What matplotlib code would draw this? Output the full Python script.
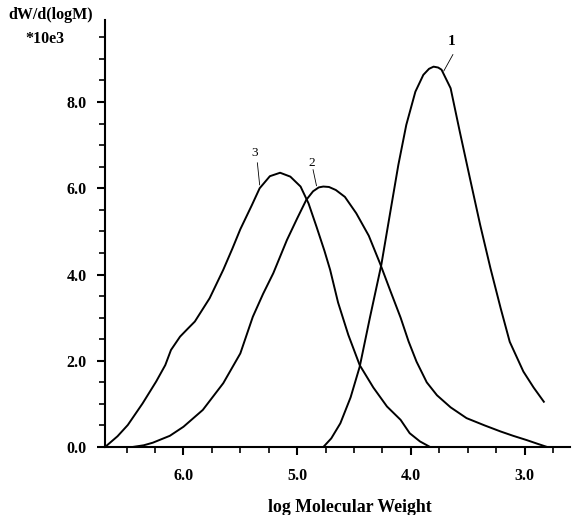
import numpy as np
import matplotlib.pyplot as plt
from matplotlib.ticker import MultipleLocator

# values (log M, dW/d(logM) * 10e3)
x1 = [4.77, 4.70, 4.62, 4.53, 4.45, 4.36, 4.26, 4.18, 4.11, 4.04, 3.96, 3.89,
      3.84, 3.80, 3.76, 3.73, 3.65, 3.57, 3.48, 3.39, 3.30, 3.21, 3.13, 3.01,
      2.92, 2.83]
y1 = [0.00, 0.20, 0.55, 1.15, 1.86, 3.00, 4.22, 5.46, 6.54, 7.47, 8.24, 8.63,
      8.77, 8.82, 8.80, 8.75, 8.32, 7.32, 6.23, 5.15, 4.15, 3.22, 2.44, 1.75,
      1.38, 1.05]

x2 = [6.45, 6.35, 6.27, 6.12, 6.00, 5.83, 5.65, 5.50, 5.39, 5.30, 5.21, 5.09,
      5.00, 4.92, 4.86, 4.81, 4.77, 4.72, 4.66, 4.58, 4.48, 4.37, 4.27, 4.18,
      4.09, 4.02, 3.95, 3.86, 3.77, 3.65, 3.51, 3.35, 3.21, 3.10, 2.98, 2.88,
      2.80]
y2 = [0.00, 0.04, 0.10, 0.26, 0.47, 0.86, 1.48, 2.17, 3.02, 3.55, 4.03, 4.80,
      5.30, 5.73, 5.93, 6.02, 6.04, 6.03, 5.96, 5.80, 5.42, 4.90, 4.25, 3.62,
      3.00, 2.45, 1.98, 1.50, 1.20, 0.92, 0.67, 0.50, 0.36, 0.26, 0.16, 0.07,
      0.00]

x3 = [6.69, 6.58, 6.49, 6.36, 6.24, 6.16, 6.11, 6.03, 5.96, 5.90, 5.77, 5.65,
      5.57, 5.50, 5.40, 5.33, 5.24, 5.15, 5.06, 4.97, 4.90, 4.83, 4.76, 4.71,
      4.64, 4.55, 4.45, 4.33, 4.21, 4.09, 4.01, 3.92, 3.83]
y3 = [0.00, 0.25, 0.51, 1.01, 1.52, 1.90, 2.25, 2.56, 2.75, 2.91, 3.45, 4.11,
      4.60, 5.05, 5.60, 6.00, 6.28, 6.36, 6.27, 6.04, 5.65, 5.11, 4.55, 4.11,
      3.35, 2.60, 1.90, 1.38, 0.94, 0.63, 0.32, 0.13, 0.00]

labels = ['1', '2', '3']
label_pos = [(3.64, 9.40), (4.87, 6.58), (5.37, 6.81)]
leader = [((3.63, 9.10), (3.71, 8.72)),
          ((4.86, 6.43), (4.83, 6.06)),
          ((5.35, 6.59), (5.33, 6.08))]

plt.rcParams['font.family'] = 'Liberation Serif'
plt.rcParams['font.weight'] = 'bold'

fig = plt.figure(figsize=(5.74, 5.15), dpi=100)
ax = fig.add_axes([0.183, 0.132, 0.81, 0.829])

for xs, ys in [(x1, y1), (x2, y2), (x3, y3)]:
    ax.plot(xs, ys, color='black', lw=1.4)

for i, lab in enumerate(labels):
    ax.text(label_pos[i][0], label_pos[i][1], lab, ha='center', va='center',
            fontsize=11 if i == 0 else 9.5,
            fontweight='bold' if i == 0 else 'normal')
    (a, b), (c, d) = leader[i]
    ax.plot([a, c], [b, d], color='black', lw=0.6)

ax.set_xlim(6.69, 2.6)
ax.set_ylim(0, 9.9)

ax.xaxis.set_minor_locator(MultipleLocator(0.25))
ax.yaxis.set_minor_locator(MultipleLocator(0.5))
ax.set_xticks([6.0, 5.0, 4.0, 3.0])
ax.set_xticklabels(['6.0', '5.0', '4.0', '3.0'])
ax.set_yticks([0, 2, 4, 6, 8])
ax.set_yticklabels(['0.0', '2.0', '4.0', '6.0', '8.0'])

for s in ['top', 'right']:
    ax.spines[s].set_visible(False)
for s in ['left', 'bottom']:
    ax.spines[s].set_linewidth(1.5)

ax.tick_params(which='major', direction='out', length=6, width=1.5,
               labelsize=11.5)
ax.tick_params(which='minor', direction='out', length=4, width=1.2)
ax.tick_params(axis='x', which='major', pad=9)
ax.tick_params(axis='y', which='major', pad=7)

fig.text(0.089, 0.971, 'dW/d(logM)', ha='center', va='center', fontsize=11.5,
         fontweight='bold')
fig.text(0.078, 0.925, '*10e3', ha='center', va='center', fontsize=11.5,
         fontweight='bold')
fig.text(0.61, 0.014, 'log Molecular Weight', ha='center', va='center',
         fontsize=12.8, fontweight='bold')

fig.savefig('out.png', dpi=100)
